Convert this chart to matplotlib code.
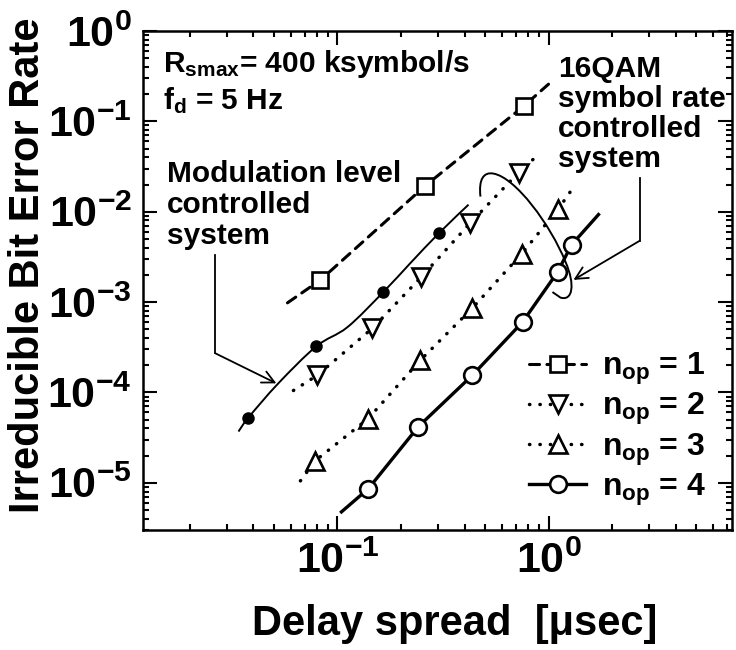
import numpy as np
import matplotlib.pyplot as plt
from matplotlib.lines import Line2D
from matplotlib.path import Path
from matplotlib.patches import PathPatch
from matplotlib.ticker import LogLocator, FuncFormatter, NullFormatter

plt.rcParams['font.family'] = 'Liberation Sans'
plt.rcParams['font.weight'] = 'bold'
plt.rcParams['mathtext.fontset'] = 'custom'
for key in ('rm', 'it', 'bf', 'sf'):
    plt.rcParams['mathtext.' + key] = 'Liberation Sans:bold'

# --- measured points, delay spread [usec] vs irreducible BER ---
delay_op1 = [0.083, 0.261, 0.762]
ber_op1 = [1.75e-3, 1.94e-2, 1.47e-1]
ends_op1 = ([0.058, 1.0], [9.8e-4, 0.258])

delay_op2 = [0.0804, 0.1466, 0.250, 0.427, 0.721]
ber_op2 = [1.55e-4, 5.14e-4, 1.90e-3, 7.55e-3, 2.71e-2]
ends_op2 = ([0.0619, 0.897], [1.05e-4, 4.3e-2])

delay_op3 = [0.0787, 0.140, 0.247, 0.436, 0.745, 1.115]
ber_op3 = [1.76e-5, 5.14e-5, 2.27e-4, 8.58e-4, 3.41e-3, 1.08e-2]
ends_op3 = ([0.0668, 1.27], [1.05e-5, 1.67e-2])

delay_op4 = [0.140, 0.242, 0.436, 0.753, 1.104, 1.285]
ber_op4 = [8.58e-6, 4.19e-5, 1.55e-4, 6.0e-4, 2.15e-3, 4.3e-3]
ends_op4 = ([0.1045, 1.725], [4.76e-6, 9.3e-3])

# modulation level controlled system
delay_mod = [0.0379, 0.0795, 0.165, 0.304]
ber_mod = [5.27e-5, 3.24e-4, 1.29e-3, 5.85e-3]
curve_mod_x = [0.0340, 0.0379, 0.0525, 0.0795, 0.1115, 0.165, 0.222, 0.304, 0.418]
curve_mod_y = [3.69e-5, 5.27e-5, 1.26e-4, 3.24e-4, 5.27e-4, 1.29e-3, 2.71e-3,
               5.85e-3, 1.197e-2]

labels = [r'$n_{op}$ = 1', r'$n_{op}$ = 2', r'$n_{op}$ = 3', r'$n_{op}$ = 4']

DASHED = (0, (3.3, 2.4))
DOTTED = (0, (0.1, 2.9))

fig, ax = plt.subplots(figsize=(7.36, 6.5), dpi=100)
fig.subplots_adjust(left=0.1943, right=0.9946, bottom=0.1846, top=0.9523)

ax.set_xscale('log')
ax.set_yscale('log')
ax.set_xlim(0.012, 7.4)
ax.set_ylim(3e-6, 1.0)


def connect(ends, xs, ys):
    return [ends[0][0]] + list(xs) + [ends[0][1]], [ends[1][0]] + list(ys) + [ends[1][1]]


def smooth_path(xs, ys):
    # Catmull-Rom curve through the traced points, as cubic Beziers in log space
    p = np.log10(np.column_stack([xs, ys]))
    p = np.vstack([p[0], p, p[-1]])
    verts, codes = [p[1]], [Path.MOVETO]
    for i in range(1, len(p) - 2):
        c1 = p[i] + (p[i + 1] - p[i - 1]) / 6.0
        c2 = p[i + 1] - (p[i + 2] - p[i]) / 6.0
        verts += [c1, c2, p[i + 1]]
        codes += [Path.CURVE4] * 3
    return Path(10 ** np.array(verts), codes)


series = [
    (delay_op1, ber_op1, ends_op1, DASHED, 2.2, 's', 11),
    (delay_op2, ber_op2, ends_op2, DOTTED, 2.5, 'v', 13),
    (delay_op3, ber_op3, ends_op3, DOTTED, 2.5, '^', 13),
    (delay_op4, ber_op4, ends_op4, '-', 2.4, 'o', 12),
]
handles = []
for xs, ys, ends, ls, lw, mk, ms in series:
    lx, ly = connect(ends, xs, ys)
    ax.plot(lx, ly, color='black', ls=ls, lw=lw, dash_capstyle='round', zorder=2)
    ax.plot(xs, ys, ls='none', marker=mk, ms=ms, mfc='white', mec='black', mew=1.9, zorder=3)
    handles.append(Line2D([], [], color='black', ls=ls, lw=lw, dash_capstyle='round',
                          marker=mk, ms=ms, mfc='white', mec='black', mew=1.9))

ax.add_patch(PathPatch(smooth_path(curve_mod_x, curve_mod_y), fill=False, lw=1.4,
                       edgecolor='black', zorder=2))
ax.plot(delay_mod, ber_mod, ls='none', marker='o', ms=8, color='black', zorder=3)

# lasso around the 16QAM symbol-rate controlled points
lasso_verts = [(0.476, 0.0147),
               (0.466, 0.0227), (0.492, 0.0278), (0.549, 0.0264),
               (0.698, 0.0239), (1.022, 7.17e-3), (1.204, 2.78e-3),
               (1.342, 1.55e-3), (1.30, 1.02e-3), (1.14, 1.12e-3),
               (1.044, 1.29e-3)]
lasso_codes = [Path.MOVETO] + [Path.CURVE4] * 9 + [Path.LINETO]
ax.add_patch(PathPatch(Path(lasso_verts, lasso_codes), fill=False, lw=1.4,
                       edgecolor='black', zorder=4))

# callout leaders
ax.plot([0.0264, 0.0264], [3.33e-3, 2.71e-4], color='black', lw=1.3)
ax.annotate('', xy=(0.0514, 1.26e-4), xytext=(0.0264, 2.71e-4),
            arrowprops=dict(arrowstyle='->', lw=1.3, color='black',
                            mutation_scale=22, shrinkA=0, shrinkB=0))
ax.plot([2.70, 2.70], [0.0239, 4.76e-3], color='black', lw=1.3)
ax.annotate('', xy=(1.313, 1.76e-3), xytext=(2.70, 4.76e-3),
            arrowprops=dict(arrowstyle='->', lw=1.3, color='black',
                            mutation_scale=22, shrinkA=0, shrinkB=0))

# annotation text
txt = dict(transform=ax.transAxes, fontsize=21.5, fontweight='bold', va='baseline')
ax.text(0.034, 0.918, r'R$_{smax}$= 400 ksymbol/s', **txt)
ax.text(0.034, 0.844, r'f$_{d}$ = 5 Hz', **txt)
for i, line in enumerate(['Modulation level', 'controlled', 'system']):
    ax.text(0.041, 0.697 - i * 0.062, line, **txt)
for i, line in enumerate(['16QAM', 'symbol rate', 'controlled', 'system']):
    ax.text(0.705, 0.908 - i * 0.060, line, **txt)

ax.legend(handles, labels, loc='lower left', bbox_to_anchor=(0.655, 0.045),
          frameon=False, fontsize=23, handlelength=1.8, handletextpad=0.5,
          labelspacing=0.12, borderpad=0, borderaxespad=0)

# axes styling
ax.xaxis.set_major_locator(LogLocator(base=10, numticks=10))
ax.yaxis.set_major_locator(LogLocator(base=10, numticks=10))
ax.xaxis.set_minor_locator(LogLocator(base=10, subs=np.arange(2, 10), numticks=20))
ax.yaxis.set_minor_locator(LogLocator(base=10, subs=np.arange(2, 10), numticks=20))
fmt = FuncFormatter(lambda v, _: r'$10^{%d}$' % int(round(np.log10(v))))
ax.xaxis.set_major_formatter(fmt)
ax.yaxis.set_major_formatter(fmt)
ax.xaxis.set_minor_formatter(NullFormatter())
ax.yaxis.set_minor_formatter(NullFormatter())
ax.tick_params(which='both', direction='in', top=True, right=True, width=1.5)
ax.tick_params(which='major', length=10, labelsize=31, pad=8)
ax.tick_params(which='minor', length=4.5)
for sp in ax.spines.values():
    sp.set_linewidth(1.8)

ax.set_xlabel(u'Delay spread  [\u03bcsec]', fontsize=30, fontweight='bold')
ax.set_ylabel('Irreducible Bit Error Rate', fontsize=30, fontweight='bold')
ax.xaxis.set_label_coords(0.53, -0.148)
ax.yaxis.set_label_coords(-0.162, 0.53)

fig.savefig('out.png', dpi=100)
